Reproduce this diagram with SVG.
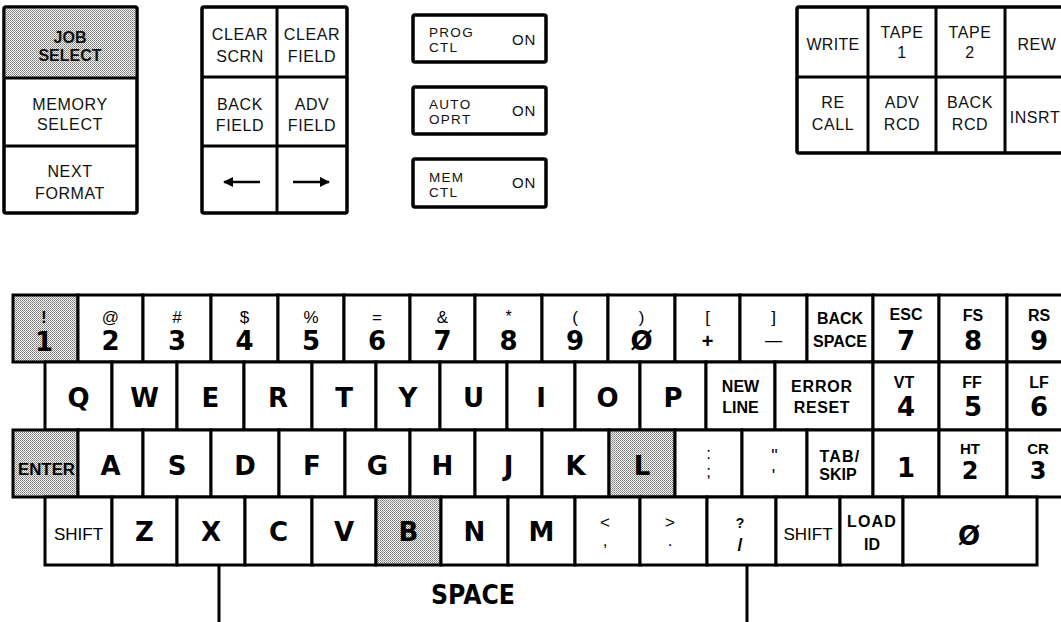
<svg xmlns="http://www.w3.org/2000/svg" width="1061" height="622" viewBox="0 0 1061 622">
<style>
.k{fill:#fff;stroke:#000;stroke-width:3}
.sh{fill:url(#dots);stroke:#000;stroke-width:3}
.box{fill:#fff;stroke:#000;stroke-width:3.5}
.div{stroke:#000;stroke-width:3;fill:none}
.p{font-family:"Liberation Sans",Arial,sans-serif;font-size:16px;text-anchor:middle;letter-spacing:0.6px;fill:#111}
.pl{font-family:"Liberation Sans",Arial,sans-serif;font-size:13.5px;letter-spacing:1.3px;fill:#111}
.on{font-family:"Liberation Sans",Arial,sans-serif;font-size:15px;letter-spacing:0.8px;fill:#111}
.pb{font-family:"Liberation Sans",Arial,sans-serif;font-size:16px;font-weight:bold;text-anchor:middle;fill:#111}
.L{font-family:"DejaVu Sans",sans-serif;font-weight:bold;font-size:26px;text-anchor:middle;fill:#000}
.s{font-family:"Liberation Sans",Arial,sans-serif;font-size:17px;text-anchor:middle;fill:#000}
.w{font-family:"Liberation Sans",Arial,sans-serif;font-weight:bold;font-size:16px;text-anchor:middle;fill:#000}
.arr{stroke:#000;stroke-width:2.5;fill:none}
</style>
<defs>
<pattern id="dots" width="2" height="2" patternUnits="userSpaceOnUse">
<rect width="2" height="2" fill="#f4f4f4"/>
<rect width="1" height="1" fill="#7a7a7a"/>
<rect x="1" y="1" width="1" height="1" fill="#9a9a9a"/>
</pattern>
<marker id="ah" viewBox="0 0 10 10" refX="9" refY="5" markerWidth="11" markerHeight="10" orient="auto" markerUnits="userSpaceOnUse">
<path d="M0,0 L10,5 L0,10 z" fill="#000"/>
</marker>
</defs>
<rect width="1061" height="622" fill="#fff"/>

<!-- Top-left panel -->
<g id="panel-select">
<rect class="box" x="4" y="7" width="133" height="206" rx="2"/>
<rect x="5.7" y="8.7" width="129.6" height="69.3" fill="url(#dots)"/>
<line class="div" x1="4" y1="78" x2="137" y2="78"/>
<line class="div" x1="4" y1="146" x2="137" y2="146"/>
<text class="pb" x="70" y="43">JOB</text>
<text class="pb" x="70" y="61">SELECT</text>
<text class="p" x="70" y="110">MEMORY</text>
<text class="p" x="70" y="130">SELECT</text>
<text class="p" x="70" y="177">NEXT</text>
<text class="p" x="70" y="199">FORMAT</text>
</g>

<g id="panel-field">
<rect class="box" x="202" y="7" width="145" height="206" rx="2"/>
<line class="div" x1="277" y1="7" x2="277" y2="213"/>
<line class="div" x1="202" y1="77" x2="347" y2="77"/>
<line class="div" x1="202" y1="146" x2="347" y2="146"/>
<text class="p" x="240" y="40">CLEAR</text>
<text class="p" x="240" y="62">SCRN</text>
<text class="p" x="312" y="40">CLEAR</text>
<text class="p" x="312" y="62">FIELD</text>
<text class="p" x="240" y="110">BACK</text>
<text class="p" x="240" y="131">FIELD</text>
<text class="p" x="312" y="110">ADV</text>
<text class="p" x="312" y="131">FIELD</text>
<line class="arr" x1="260" y1="182" x2="224" y2="182" marker-end="url(#ah)"/>
<line class="arr" x1="293" y1="182" x2="329" y2="182" marker-end="url(#ah)"/>
</g>

<!-- Middle switches -->
<g id="sw-prog">
<rect class="box" x="413" y="15" width="133" height="47" rx="2"/>
<text class="pl" x="429" y="37">PROG</text>
<text class="pl" x="429" y="52">CTL</text>
<text class="on" x="512" y="45">ON</text>
</g>
<g id="sw-auto">
<rect class="box" x="413" y="87" width="133" height="47" rx="2"/>
<text class="pl" x="429" y="109">AUTO</text>
<text class="pl" x="429" y="124">OPRT</text>
<text class="on" x="512" y="116">ON</text>
</g>
<g id="sw-mem">
<rect class="box" x="413" y="159" width="133" height="48" rx="2"/>
<text class="pl" x="429" y="182">MEM</text>
<text class="pl" x="429" y="197">CTL</text>
<text class="on" x="512" y="188">ON</text>
</g>

<!-- Right tape panel -->
<g id="panel-tape">
<rect class="box" x="797" y="7" width="280" height="146" rx="2"/>
<line class="div" x1="868" y1="7" x2="868" y2="153"/>
<line class="div" x1="936" y1="7" x2="936" y2="153"/>
<line class="div" x1="1005" y1="7" x2="1005" y2="153"/>
<line class="div" x1="797" y1="77" x2="1061" y2="77"/>
<text class="p" x="833" y="50" style="letter-spacing:0.3px">WRITE</text>
<text class="p" x="902" y="38">TAPE</text>
<text class="p" x="902" y="58">1</text>
<text class="p" x="970" y="38">TAPE</text>
<text class="p" x="970" y="58">2</text>
<text class="p" x="1037" y="50">REW</text>
<text class="p" x="833" y="108">RE</text>
<text class="p" x="833" y="130">CALL</text>
<text class="p" x="902" y="108">ADV</text>
<text class="p" x="902" y="130">RCD</text>
<text class="p" x="970" y="108">BACK</text>
<text class="p" x="970" y="130">RCD</text>
<text class="p" x="1035" y="123">INSRT</text>
</g>

<!-- Keyboard row 1 -->
<g id="key-1"><rect class="sh" x="13" y="295" width="65" height="67"/><text class="w" x="44" y="323" style="font-size:16px">!</text><text class="L" x="44" y="351">1</text></g>
<g id="key-2"><rect class="k" x="78" y="295" width="65" height="67"/><text class="s" x="110.5" y="323">@</text><text class="L" x="110.5" y="350">2</text></g>
<g id="key-3"><rect class="k" x="143" y="295" width="68" height="67"/><text class="s" x="177" y="323">#</text><text class="L" x="177" y="350">3</text></g>
<g id="key-4"><rect class="k" x="211" y="295" width="67" height="67"/><text class="s" x="244.5" y="323">$</text><text class="L" x="244.5" y="350">4</text></g>
<g id="key-5"><rect class="k" x="278" y="295" width="66" height="67"/><text class="s" x="311" y="323">%</text><text class="L" x="311" y="350">5</text></g>
<g id="key-6"><rect class="k" x="344" y="295" width="66" height="67"/><text class="s" x="377" y="323">=</text><text class="L" x="377" y="350">6</text></g>
<g id="key-7"><rect class="k" x="410" y="295" width="65" height="67"/><text class="s" x="442.5" y="323">&amp;</text><text class="L" x="442.5" y="350">7</text></g>
<g id="key-8"><rect class="k" x="475" y="295" width="67" height="67"/><text class="s" x="508.5" y="322" style="font-size:16px">*</text><text class="L" x="508.5" y="350">8</text></g>
<g id="key-9"><rect class="k" x="542" y="295" width="66" height="67"/><text class="s" x="575" y="323">(</text><text class="L" x="575" y="350">9</text></g>
<g id="key-0"><rect class="k" x="608" y="295" width="67" height="67"/><text class="s" x="641.5" y="323">)</text><text class="L" x="641.5" y="350">Ø</text></g>
<g id="key-plus"><rect class="k" x="675" y="295" width="65" height="67"/><text class="s" x="707.5" y="323">[</text><text class="w" x="707.5" y="348" style="font-size:20px">+</text></g>
<g id="key-minus"><rect class="k" x="740" y="295" width="67" height="67"/><text class="s" x="773.5" y="323">]</text><text class="s" x="773.5" y="346">—</text></g>
<g id="key-backspace"><rect class="k" x="807" y="295" width="66" height="67"/><text class="w" x="840" y="324">BACK</text><text class="w" x="840" y="347">SPACE</text></g>
<g id="key-esc7"><rect class="k" x="873" y="295" width="66" height="67"/><text class="w" x="906" y="320">ESC</text><text class="L" x="906" y="350">7</text></g>
<g id="key-fs8"><rect class="k" x="939" y="295" width="68" height="67"/><text class="w" x="973" y="321">FS</text><text class="L" x="973" y="350">8</text></g>
<g id="key-rs9"><rect class="k" x="1007" y="295" width="65" height="67"/><text class="w" x="1039" y="321">RS</text><text class="L" x="1039" y="350">9</text></g>

<!-- Keyboard row 2 -->
<g id="key-q"><rect class="k" x="45" y="362" width="67" height="68"/><text class="L" x="78.5" y="407">Q</text></g>
<g id="key-w"><rect class="k" x="112" y="362" width="65" height="68"/><text class="L" x="144.5" y="407">W</text></g>
<g id="key-e"><rect class="k" x="177" y="362" width="67" height="68"/><text class="L" x="210.5" y="407">E</text></g>
<g id="key-r"><rect class="k" x="244" y="362" width="68" height="68"/><text class="L" x="278" y="407">R</text></g>
<g id="key-t"><rect class="k" x="312" y="362" width="64" height="68"/><text class="L" x="344" y="407">T</text></g>
<g id="key-y"><rect class="k" x="376" y="362" width="64" height="68"/><text class="L" x="408" y="407">Y</text></g>
<g id="key-u"><rect class="k" x="440" y="362" width="67" height="68"/><text class="L" x="473.5" y="407">U</text></g>
<g id="key-i"><rect class="k" x="507" y="362" width="68" height="68"/><text class="L" x="541" y="407">I</text></g>
<g id="key-o"><rect class="k" x="575" y="362" width="65" height="68"/><text class="L" x="607.5" y="407">O</text></g>
<g id="key-p"><rect class="k" x="640" y="362" width="66" height="68"/><text class="L" x="673" y="407">P</text></g>
<g id="key-newline"><rect class="k" x="706" y="362" width="69" height="68"/><text class="w" x="740.5" y="392">NEW</text><text class="w" x="740.5" y="413">LINE</text></g>
<g id="key-errorreset"><rect class="k" x="775" y="362" width="98" height="68"/><text class="w" x="822" y="392" style="letter-spacing:0.8px">ERROR</text><text class="w" x="822" y="413" style="letter-spacing:0.6px">RESET</text></g>
<g id="key-vt4"><rect class="k" x="873" y="362" width="66" height="68"/><text class="w" x="904" y="388">VT</text><text class="L" x="906" y="416">4</text></g>
<g id="key-ff5"><rect class="k" x="939" y="362" width="68" height="68"/><text class="w" x="972" y="388">FF</text><text class="L" x="973" y="416">5</text></g>
<g id="key-lf6"><rect class="k" x="1007" y="362" width="65" height="68"/><text class="w" x="1039" y="388">LF</text><text class="L" x="1039" y="416">6</text></g>

<!-- Keyboard row 3 -->
<g id="key-enter"><rect class="sh" x="13" y="430" width="65" height="67"/><text class="w" x="46.5" y="475" textLength="57" lengthAdjust="spacingAndGlyphs">ENTER</text></g>
<g id="key-a"><rect class="k" x="78" y="430" width="65" height="67"/><text class="L" x="110.5" y="475">A</text></g>
<g id="key-s"><rect class="k" x="143" y="430" width="68" height="67"/><text class="L" x="177" y="475">S</text></g>
<g id="key-d"><rect class="k" x="211" y="430" width="68" height="67"/><text class="L" x="245" y="475">D</text></g>
<g id="key-f"><rect class="k" x="279" y="430" width="66" height="67"/><text class="L" x="312" y="475">F</text></g>
<g id="key-g"><rect class="k" x="345" y="430" width="65" height="67"/><text class="L" x="377.5" y="475">G</text></g>
<g id="key-h"><rect class="k" x="410" y="430" width="65" height="67"/><text class="L" x="442.5" y="475">H</text></g>
<g id="key-j"><rect class="k" x="475" y="430" width="67" height="67"/><text class="L" x="508.5" y="475">J</text></g>
<g id="key-k"><rect class="k" x="542" y="430" width="67" height="67"/><text class="L" x="575.5" y="475">K</text></g>
<g id="key-l"><rect class="sh" x="609" y="430" width="66" height="67"/><text class="L" x="642" y="475">L</text></g>
<g id="key-colon"><rect class="k" x="675" y="430" width="67" height="67"/><text class="s" x="708.5" y="459">:</text><text class="s" x="708.5" y="477">;</text></g>
<g id="key-quote"><rect class="k" x="742" y="430" width="65" height="67"/><text class="s" x="774.5" y="462" style="font-size:18px">"</text><text class="s" x="773.5" y="482" style="font-size:18px">'</text></g>
<g id="key-tab"><rect class="k" x="807" y="430" width="66" height="67"/><text class="w" x="840" y="462" style="letter-spacing:1.2px">TAB/</text><text class="w" x="838" y="480">SKIP</text></g>
<g id="key-n1"><rect class="k" x="873" y="430" width="66" height="67"/><text class="L" x="906" y="477">1</text></g>
<g id="key-ht2"><rect class="k" x="939" y="430" width="68" height="67"/><text class="w" x="970" y="454" style="font-size:15px">HT</text><text class="L" x="970" y="479" style="font-size:24px">2</text></g>
<g id="key-cr3"><rect class="k" x="1007" y="430" width="65" height="67"/><text class="w" x="1038" y="454" style="font-size:15px">CR</text><text class="L" x="1038" y="479" style="font-size:24px">3</text></g>

<!-- Keyboard row 4 -->
<g id="key-shift-l"><rect class="k" x="45" y="497" width="67" height="68"/><text class="w" x="78.5" y="540" style="font-weight:normal;font-size:17px">SHIFT</text></g>
<g id="key-z"><rect class="k" x="112" y="497" width="65" height="68"/><text class="L" x="144.5" y="541">Z</text></g>
<g id="key-x"><rect class="k" x="177" y="497" width="68" height="68"/><text class="L" x="211" y="541">X</text></g>
<g id="key-c"><rect class="k" x="245" y="497" width="67" height="68"/><text class="L" x="278.5" y="541">C</text></g>
<g id="key-v"><rect class="k" x="312" y="497" width="64" height="68"/><text class="L" x="344" y="541">V</text></g>
<g id="key-b"><rect class="sh" x="376" y="497" width="65" height="68"/><text class="L" x="408.5" y="541">B</text></g>
<g id="key-n"><rect class="k" x="441" y="497" width="67" height="68"/><text class="L" x="474.5" y="541">N</text></g>
<g id="key-m"><rect class="k" x="508" y="497" width="67" height="68"/><text class="L" x="541.5" y="541">M</text></g>
<g id="key-comma"><rect class="k" x="575" y="497" width="65" height="68"/><text class="s" x="605" y="528" style="font-size:17px">&lt;</text><text class="s" x="605" y="546">,</text></g>
<g id="key-period"><rect class="k" x="640" y="497" width="67" height="68"/><text class="s" x="670" y="528" style="font-size:17px">&gt;</text><text class="s" x="670" y="546">.</text></g>
<g id="key-slash"><rect class="k" x="707" y="497" width="69" height="68"/><text class="w" x="740" y="528" style="font-size:14px">?</text><text class="w" x="740" y="551" style="font-size:18px">/</text></g>
<g id="key-shift-r"><rect class="k" x="776" y="497" width="64" height="68"/><text class="w" x="808" y="540" style="font-weight:normal;font-size:17px">SHIFT</text></g>
<g id="key-loadid"><rect class="k" x="840" y="497" width="63" height="68"/><text class="w" x="872" y="527" style="letter-spacing:1.2px">LOAD</text><text class="w" x="872" y="550">ID</text></g>
<g id="key-zero"><rect class="k" x="903" y="497" width="134" height="68"/><text class="L" x="969" y="545">Ø</text></g>

<!-- Space bar -->
<g id="key-space">
<line class="div" x1="219" y1="565" x2="219" y2="622"/>
<line class="div" x1="747" y1="565" x2="747" y2="622"/>
<text class="L" x="473" y="604" textLength="84" lengthAdjust="spacingAndGlyphs">SPACE</text>
</g>

<g id="connectors"/>
</svg>
